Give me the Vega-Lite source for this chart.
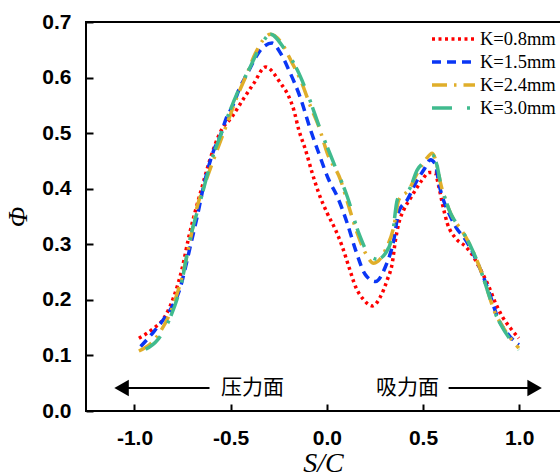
{
  "$schema": "https://vega.github.io/schema/vega-lite/v6.json",
  "autosize": {"type": "none"},
  "padding": {"left": 86, "top": 22, "right": 0, "bottom": 64},
  "width": 474,
  "height": 389,
  "background": "white",
  "config": {
    "view": {"stroke": null},
    "axis": {"grid": false, "domain": false, "offset": -7, "tickColor": "black", "tickWidth": 2, "tickSize": 7, "ticks": true,
      "labelFont": "Liberation Sans", "labelFontWeight": "bold", "labelFontSize": 21, "labelColor": "black",
      "titleColor": "black", "titleFont": "Liberation Serif", "titleFontStyle": "italic", "titleFontWeight": "normal"}
  },
  "datasets": {
    "curves": [
      {"K":"K=0.8mm","x":-0.977,"y":0.131},{"K":"K=0.8mm","x":-0.907,"y":0.147},{"K":"K=0.8mm","x":-0.847,"y":0.167},{"K":"K=0.8mm","x":-0.795,"y":0.206},{"K":"K=0.8mm","x":-0.752,"y":0.257},{"K":"K=0.8mm","x":-0.717,"y":0.314},{"K":"K=0.8mm","x":-0.682,"y":0.362},{"K":"K=0.8mm","x":-0.648,"y":0.404},{"K":"K=0.8mm","x":-0.608,"y":0.452},{"K":"K=0.8mm","x":-0.552,"y":0.503},{"K":"K=0.8mm","x":-0.492,"y":0.530},{"K":"K=0.8mm","x":-0.431,"y":0.563},{"K":"K=0.8mm","x":-0.379,"y":0.590},{"K":"K=0.8mm","x":-0.319,"y":0.619},{"K":"K=0.8mm","x":-0.241,"y":0.590},{"K":"K=0.8mm","x":-0.198,"y":0.566},{"K":"K=0.8mm","x":-0.172,"y":0.542},{"K":"K=0.8mm","x":-0.146,"y":0.506},{"K":"K=0.8mm","x":-0.111,"y":0.470},{"K":"K=0.8mm","x":-0.076,"y":0.428},{"K":"K=0.8mm","x":-0.042,"y":0.392},{"K":"K=0.8mm","x":0.002,"y":0.356},{"K":"K=0.8mm","x":0.045,"y":0.326},{"K":"K=0.8mm","x":0.080,"y":0.296},{"K":"K=0.8mm","x":0.114,"y":0.260},{"K":"K=0.8mm","x":0.149,"y":0.224},{"K":"K=0.8mm","x":0.192,"y":0.200},{"K":"K=0.8mm","x":0.236,"y":0.189},{"K":"K=0.8mm","x":0.279,"y":0.206},{"K":"K=0.8mm","x":0.314,"y":0.236},{"K":"K=0.8mm","x":0.340,"y":0.266},{"K":"K=0.8mm","x":0.357,"y":0.308},{"K":"K=0.8mm","x":0.374,"y":0.338},{"K":"K=0.8mm","x":0.400,"y":0.362},{"K":"K=0.8mm","x":0.435,"y":0.383},{"K":"K=0.8mm","x":0.461,"y":0.398},{"K":"K=0.8mm","x":0.496,"y":0.416},{"K":"K=0.8mm","x":0.530,"y":0.429},{"K":"K=0.8mm","x":0.561,"y":0.429},{"K":"K=0.8mm","x":0.582,"y":0.404},{"K":"K=0.8mm","x":0.600,"y":0.374},{"K":"K=0.8mm","x":0.626,"y":0.338},{"K":"K=0.8mm","x":0.669,"y":0.311},{"K":"K=0.8mm","x":0.721,"y":0.296},{"K":"K=0.8mm","x":0.756,"y":0.281},{"K":"K=0.8mm","x":0.799,"y":0.254},{"K":"K=0.8mm","x":0.842,"y":0.224},{"K":"K=0.8mm","x":0.877,"y":0.194},{"K":"K=0.8mm","x":0.912,"y":0.170},{"K":"K=0.8mm","x":0.955,"y":0.149},{"K":"K=0.8mm","x":0.998,"y":0.131},

      {"K":"K=1.5mm","x":-0.968,"y":0.116},{"K":"K=1.5mm","x":-0.899,"y":0.143},{"K":"K=1.5mm","x":-0.838,"y":0.170},{"K":"K=1.5mm","x":-0.804,"y":0.188},{"K":"K=1.5mm","x":-0.760,"y":0.224},{"K":"K=1.5mm","x":-0.734,"y":0.260},{"K":"K=1.5mm","x":-0.708,"y":0.299},{"K":"K=1.5mm","x":-0.674,"y":0.350},{"K":"K=1.5mm","x":-0.639,"y":0.407},{"K":"K=1.5mm","x":-0.587,"y":0.470},{"K":"K=1.5mm","x":-0.552,"y":0.497},{"K":"K=1.5mm","x":-0.526,"y":0.524},{"K":"K=1.5mm","x":-0.483,"y":0.554},{"K":"K=1.5mm","x":-0.457,"y":0.578},{"K":"K=1.5mm","x":-0.414,"y":0.607},{"K":"K=1.5mm","x":-0.336,"y":0.653},{"K":"K=1.5mm","x":-0.284,"y":0.662},{"K":"K=1.5mm","x":-0.241,"y":0.644},{"K":"K=1.5mm","x":-0.198,"y":0.614},{"K":"K=1.5mm","x":-0.137,"y":0.563},{"K":"K=1.5mm","x":-0.085,"y":0.506},{"K":"K=1.5mm","x":-0.042,"y":0.464},{"K":"K=1.5mm","x":0.010,"y":0.416},{"K":"K=1.5mm","x":0.054,"y":0.386},{"K":"K=1.5mm","x":0.106,"y":0.338},{"K":"K=1.5mm","x":0.149,"y":0.290},{"K":"K=1.5mm","x":0.201,"y":0.245},{"K":"K=1.5mm","x":0.253,"y":0.233},{"K":"K=1.5mm","x":0.305,"y":0.260},{"K":"K=1.5mm","x":0.348,"y":0.308},{"K":"K=1.5mm","x":0.374,"y":0.359},{"K":"K=1.5mm","x":0.418,"y":0.380},{"K":"K=1.5mm","x":0.461,"y":0.410},{"K":"K=1.5mm","x":0.504,"y":0.434},{"K":"K=1.5mm","x":0.539,"y":0.452},{"K":"K=1.5mm","x":0.565,"y":0.443},{"K":"K=1.5mm","x":0.582,"y":0.410},{"K":"K=1.5mm","x":0.600,"y":0.386},{"K":"K=1.5mm","x":0.634,"y":0.356},{"K":"K=1.5mm","x":0.669,"y":0.332},{"K":"K=1.5mm","x":0.721,"y":0.308},{"K":"K=1.5mm","x":0.764,"y":0.281},{"K":"K=1.5mm","x":0.799,"y":0.254},{"K":"K=1.5mm","x":0.851,"y":0.206},{"K":"K=1.5mm","x":0.886,"y":0.170},{"K":"K=1.5mm","x":0.938,"y":0.140},{"K":"K=1.5mm","x":0.998,"y":0.119},

      {"K":"K=2.4mm","x":-0.977,"y":0.108},{"K":"K=2.4mm","x":-0.890,"y":0.131},{"K":"K=2.4mm","x":-0.795,"y":0.194},{"K":"K=2.4mm","x":-0.752,"y":0.242},{"K":"K=2.4mm","x":-0.717,"y":0.296},{"K":"K=2.4mm","x":-0.674,"y":0.368},{"K":"K=2.4mm","x":-0.639,"y":0.404},{"K":"K=2.4mm","x":-0.570,"y":0.470},{"K":"K=2.4mm","x":-0.518,"y":0.518},{"K":"K=2.4mm","x":-0.466,"y":0.566},{"K":"K=2.4mm","x":-0.414,"y":0.608},{"K":"K=2.4mm","x":-0.371,"y":0.644},{"K":"K=2.4mm","x":-0.293,"y":0.678},{"K":"K=2.4mm","x":-0.241,"y":0.665},{"K":"K=2.4mm","x":-0.180,"y":0.626},{"K":"K=2.4mm","x":-0.137,"y":0.596},{"K":"K=2.4mm","x":-0.085,"y":0.548},{"K":"K=2.4mm","x":-0.042,"y":0.512},{"K":"K=2.4mm","x":0.002,"y":0.464},{"K":"K=2.4mm","x":0.071,"y":0.416},{"K":"K=2.4mm","x":0.114,"y":0.368},{"K":"K=2.4mm","x":0.158,"y":0.320},{"K":"K=2.4mm","x":0.201,"y":0.284},{"K":"K=2.4mm","x":0.244,"y":0.266},{"K":"K=2.4mm","x":0.305,"y":0.290},{"K":"K=2.4mm","x":0.348,"y":0.332},{"K":"K=2.4mm","x":0.374,"y":0.380},{"K":"K=2.4mm","x":0.426,"y":0.398},{"K":"K=2.4mm","x":0.470,"y":0.428},{"K":"K=2.4mm","x":0.513,"y":0.452},{"K":"K=2.4mm","x":0.548,"y":0.464},{"K":"K=2.4mm","x":0.574,"y":0.440},{"K":"K=2.4mm","x":0.591,"y":0.410},{"K":"K=2.4mm","x":0.617,"y":0.380},{"K":"K=2.4mm","x":0.643,"y":0.356},{"K":"K=2.4mm","x":0.686,"y":0.332},{"K":"K=2.4mm","x":0.721,"y":0.314},{"K":"K=2.4mm","x":0.764,"y":0.284},{"K":"K=2.4mm","x":0.799,"y":0.254},{"K":"K=2.4mm","x":0.834,"y":0.218},{"K":"K=2.4mm","x":0.868,"y":0.182},{"K":"K=2.4mm","x":0.903,"y":0.158},{"K":"K=2.4mm","x":0.955,"y":0.131},{"K":"K=2.4mm","x":0.998,"y":0.113},

      {"K":"K=3.0mm","x":-0.942,"y":0.111},{"K":"K=3.0mm","x":-0.880,"y":0.128},{"K":"K=3.0mm","x":-0.812,"y":0.170},{"K":"K=3.0mm","x":-0.760,"y":0.224},{"K":"K=3.0mm","x":-0.708,"y":0.314},{"K":"K=3.0mm","x":-0.656,"y":0.380},{"K":"K=3.0mm","x":-0.604,"y":0.446},{"K":"K=3.0mm","x":-0.535,"y":0.512},{"K":"K=3.0mm","x":-0.466,"y":0.572},{"K":"K=3.0mm","x":-0.397,"y":0.620},{"K":"K=3.0mm","x":-0.340,"y":0.660},{"K":"K=3.0mm","x":-0.293,"y":0.678},{"K":"K=3.0mm","x":-0.223,"y":0.653},{"K":"K=3.0mm","x":-0.154,"y":0.614},{"K":"K=3.0mm","x":-0.102,"y":0.572},{"K":"K=3.0mm","x":-0.033,"y":0.506},{"K":"K=3.0mm","x":0.036,"y":0.446},{"K":"K=3.0mm","x":0.106,"y":0.386},{"K":"K=3.0mm","x":0.166,"y":0.320},{"K":"K=3.0mm","x":0.227,"y":0.278},{"K":"K=3.0mm","x":0.262,"y":0.273},{"K":"K=3.0mm","x":0.305,"y":0.284},{"K":"K=3.0mm","x":0.340,"y":0.314},{"K":"K=3.0mm","x":0.366,"y":0.380},{"K":"K=3.0mm","x":0.392,"y":0.392},{"K":"K=3.0mm","x":0.426,"y":0.398},{"K":"K=3.0mm","x":0.470,"y":0.434},{"K":"K=3.0mm","x":0.522,"y":0.452},{"K":"K=3.0mm","x":0.548,"y":0.461},{"K":"K=3.0mm","x":0.574,"y":0.440},{"K":"K=3.0mm","x":0.591,"y":0.410},{"K":"K=3.0mm","x":0.617,"y":0.380},{"K":"K=3.0mm","x":0.643,"y":0.356},{"K":"K=3.0mm","x":0.686,"y":0.332},{"K":"K=3.0mm","x":0.721,"y":0.314},{"K":"K=3.0mm","x":0.764,"y":0.284},{"K":"K=3.0mm","x":0.799,"y":0.254},{"K":"K=3.0mm","x":0.834,"y":0.218},{"K":"K=3.0mm","x":0.868,"y":0.182},{"K":"K=3.0mm","x":0.903,"y":0.156},{"K":"K=3.0mm","x":0.955,"y":0.128},{"K":"K=3.0mm","x":0.998,"y":0.110}
    ],
    "frame": [
      {"x": -1.252, "x2": 1.212, "y": 0.7, "y2": 0.7},
      {"x": -1.252, "x2": 1.212, "y": 0, "y2": 0},
      {"x": -1.252, "x2": -1.252, "y": 0, "y2": 0.7}
    ],
    "arrows": [
      {"side": "压力面", "tail": -0.61, "tip": -1.067, "y": 0.0414, "lx": -0.386},
      {"side": "吸力面", "tail": 0.633, "tip": 1.08, "y": 0.0414, "lx": 0.419}
    ]
  },
  "layer": [
    {
      "data": {"name": "curves"},
      "mark": {"type": "line", "strokeWidth": 3.5, "interpolate": "monotone", "strokeCap": "butt"},
      "encoding": {
        "x": {"field": "x", "type": "quantitative",
          "scale": {"domain": [-1.252, 1.212], "nice": false, "zero": false},
          "axis": {"values": [-1, -0.5, 0, 0.5, 1], "labelExpr": "replace(format(datum.value, '.1f'), '\u2212', '-')", "title": "S/C", "titleFontSize": 28, "titlePadding": 1, "labelPadding": 16}},
        "y": {"field": "y", "type": "quantitative",
          "scale": {"domain": [0, 0.7], "nice": false},
          "axis": {"values": [0, 0.1, 0.2, 0.3, 0.4, 0.5, 0.6, 0.7], "format": ".1f", "title": "Φ", "titleFontSize": 27, "titlePadding": 9, "labelPadding": 15}},
        "color": {"field": "K", "type": "nominal",
          "scale": {"domain": ["K=0.8mm", "K=1.5mm", "K=2.4mm", "K=3.0mm"], "range": ["#ff0000", "#0a36f5", "#e0ae2a", "#40bb8e"]},
          "legend": {"title": null, "orient": "none", "legendX": 344, "legendY": 8, "symbolType": "stroke", "symbolSize": 1850, "symbolStrokeWidth": 3.5, "clipHeight": 18,
            "labelFont": "Liberation Serif", "labelFontSize": 18.5, "labelColor": "black", "labelOffset": 3, "rowPadding": 4}},
        "strokeDash": {"field": "K", "type": "nominal",
          "scale": {"domain": ["K=0.8mm", "K=1.5mm", "K=2.4mm", "K=3.0mm"], "range": [[3, 3.5], [9, 6], [15, 7, 2.5, 7], [20, 15, 3, 5]]},
          "legend": {"title": null, "orient": "none", "legendX": 344, "legendY": 8, "symbolType": "stroke", "symbolSize": 1850, "symbolStrokeWidth": 3.5, "clipHeight": 18,
            "labelFont": "Liberation Serif", "labelFontSize": 18.5, "labelColor": "black", "labelOffset": 3, "rowPadding": 4}}
      }
    },
    {
      "data": {"name": "frame"},
      "mark": {"type": "rule", "color": "black", "strokeWidth": 2, "strokeCap": "square"},
      "encoding": {"x": {"field": "x", "type": "quantitative"}, "x2": {"field": "x2"}, "y": {"field": "y", "type": "quantitative"}, "y2": {"field": "y2"}}
    },
    {
      "data": {"name": "arrows"},
      "mark": {"type": "rule", "color": "black", "strokeWidth": 2},
      "encoding": {"x": {"field": "tail", "type": "quantitative"}, "x2": {"field": "tip"}, "y": {"field": "y", "type": "quantitative"}}
    },
    {
      "data": {"name": "arrows"},
      "transform": [{"filter": "datum.tip < 0"}],
      "mark": {"type": "point", "shape": "triangle-left", "filled": true, "color": "black", "size": 280, "opacity": 1},
      "encoding": {"x": {"field": "tip", "type": "quantitative"}, "y": {"field": "y", "type": "quantitative"}}
    },
    {
      "data": {"name": "arrows"},
      "transform": [{"filter": "datum.tip > 0"}],
      "mark": {"type": "point", "shape": "triangle-right", "filled": true, "color": "black", "size": 280, "opacity": 1},
      "encoding": {"x": {"field": "tip", "type": "quantitative"}, "y": {"field": "y", "type": "quantitative"}}
    },
    {
      "data": {"name": "arrows"},
      "mark": {"type": "text", "font": "Noto Sans CJK SC", "fontSize": 21, "color": "black", "baseline": "middle", "align": "center"},
      "encoding": {"x": {"field": "lx", "type": "quantitative"}, "y": {"field": "y", "type": "quantitative"}, "text": {"field": "side"}}
    }
  ]
}
